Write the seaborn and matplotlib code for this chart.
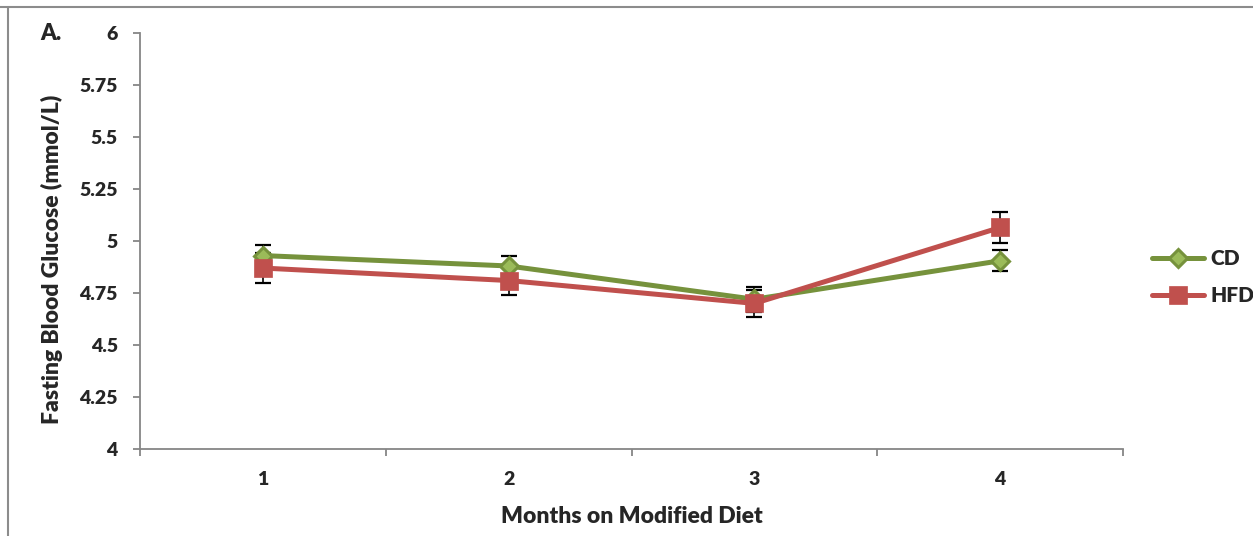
import matplotlib
matplotlib.use("Agg")
import matplotlib.pyplot as plt
from matplotlib.lines import Line2D
import seaborn as sns
import pandas as pd
import numpy as np

# Fasting blood glucose by month on diet (mean ± SEM)
months = [1, 2, 3, 4]
cd_mean = [4.93, 4.88, 4.72, 4.905]
cd_err = [0.05, 0.05, 0.06, 0.05]
hfd_mean = [4.87, 4.81, 4.70, 5.065]
hfd_err = [0.07, 0.07, 0.065, 0.073]
y_ticks = [4, 4.25, 4.5, 4.75, 5, 5.25, 5.5, 5.75, 6]
y_tick_labels = ["4", "4.25", "4.5", "4.75", "5", "5.25", "5.5", "5.75", "6"]
series_names = ["CD", "HFD"]

sns.set_theme(style="white")
plt.rcParams["font.family"] = ["Lato", "DejaVu Sans"]
WEIGHT = "heavy"
plt.rcParams["font.weight"] = WEIGHT

df = pd.DataFrame({
    "Month": months * 2,
    "Glucose": cd_mean + hfd_mean,
    "Diet": ["CD"] * 4 + ["HFD"] * 4,
})

line_colors = {"CD": "#76923C", "HFD": "#C0504D"}
face_colors = {"CD": "#9BBB59", "HFD": "#C0504D"}
markers = {"CD": "D", "HFD": "s"}
marker_sizes = {"CD": 9.5, "HFD": 12.5}
edge_widths = {"CD": 2.2, "HFD": 0.5}

fig = plt.figure(figsize=(12.53, 5.36), dpi=100)
ax = fig.add_axes([0.1117, 0.1623, 0.7846, 0.7761])

# error bars sit underneath the lines and markers
for m, e in [(cd_mean, cd_err), (hfd_mean, hfd_err)]:
    ax.errorbar(months, m, yerr=e, fmt="none", ecolor="black", elinewidth=1.2,
                capsize=5.5, capthick=1.6, zorder=1)

for i, name in enumerate(series_names):
    sub = df[df["Diet"] == name]
    sns.lineplot(data=sub, x="Month", y="Glucose", ax=ax, color=line_colors[name],
                 linewidth=3.6, marker=markers[name], markersize=marker_sizes[name],
                 markerfacecolor=face_colors[name], markeredgecolor=line_colors[name],
                 markeredgewidth=edge_widths[name], zorder=2 + i, legend=False)

ax.set_xlim(0.5, 4.5)
ax.set_ylim(4, 6)
ax.set_yticks(y_ticks)
ax.set_yticklabels(y_tick_labels)
ax.set_xticks(months)
ax.set_xticklabels([str(m) for m in months])
ax.set_xticks([0.5, 1.5, 2.5, 3.5, 4.5], minor=True)

for side in ["top", "right"]:
    ax.spines[side].set_visible(False)
for side in ["left", "bottom"]:
    ax.spines[side].set_color("#868686")
    ax.spines[side].set_linewidth(1.3)

ax.tick_params(axis="y", which="major", direction="out", length=5, width=1.3,
               color="#868686", pad=11, labelsize=14, left=True)
ax.tick_params(axis="x", which="major", length=0, pad=16, labelsize=14)
ax.tick_params(axis="x", which="minor", direction="out", length=5, width=1.3,
               color="#868686", bottom=True)
for lbl in ax.get_xticklabels() + ax.get_yticklabels():
    lbl.set_fontweight(WEIGHT)

ax.set_xlabel("Months on Modified Diet", fontsize=16.5, fontweight=WEIGHT)
ax.set_ylabel("Fasting Blood Glucose (mmol/L)", fontsize=16.5, fontweight=WEIGHT)
ax.xaxis.set_label_coords(0.5, -0.137)
ax.yaxis.set_label_coords(-0.078, 0.455)

fig.text(40 / 1253, 1 - 33 / 536, "A.", fontsize=16, fontweight=WEIGHT,
         ha="left", va="center")

handles = [
    Line2D([], [], color=line_colors[n], linewidth=3.6, marker=markers[n],
           markersize=marker_sizes[n], markerfacecolor=face_colors[n],
           markeredgecolor=line_colors[n], markeredgewidth=edge_widths[n])
    for n in series_names
]
fig.legend(handles, series_names, loc="center left",
           bbox_to_anchor=(1133 / 1253, 1 - 277 / 536), frameon=False,
           handlelength=2.5, handletextpad=0.3, labelspacing=0.85,
           prop={"size": 15, "weight": WEIGHT})

# thin frame along the top and left edges of the figure
fig.add_artist(Line2D([0, 1], [1 - 7 / 536, 1 - 7 / 536], transform=fig.transFigure,
                      color="#8C8C8C", linewidth=1.5))
fig.add_artist(Line2D([8 / 1253, 8 / 1253], [0, 1 - 7 / 536], transform=fig.transFigure,
                      color="#8C8C8C", linewidth=1.5))

fig.savefig("out.png", dpi=100, facecolor="white")
